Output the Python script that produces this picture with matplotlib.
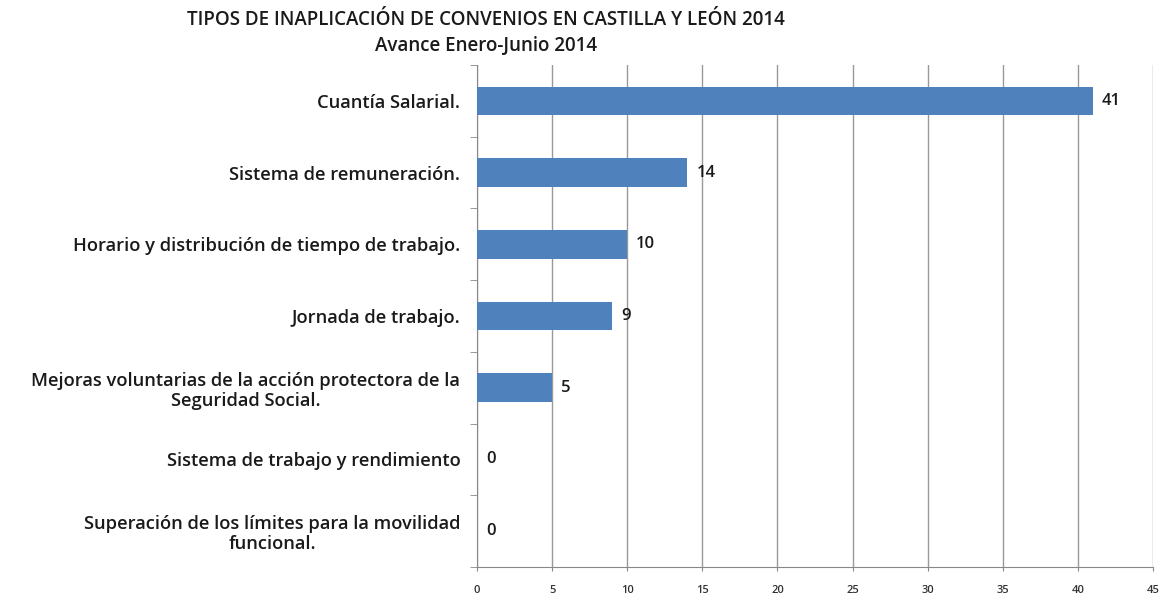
import numpy as np
import matplotlib
matplotlib.use('Agg')
import matplotlib.pyplot as plt
from matplotlib.ticker import FixedLocator

categorias = [
    'Cuantía Salarial.',
    'Sistema de remuneración.',
    'Horario y distribución de tiempo de trabajo.',
    'Jornada de trabajo.',
    'Mejoras voluntarias de la acción protectora de la\nSeguridad Social.',
    'Sistema de trabajo y rendimiento',
    'Superación de los límites para la movilidad\nfuncional.',
]
valores = [41, 14, 10, 9, 5, 0, 0]
xticks = [0, 5, 10, 15, 20, 25, 30, 35, 40, 45]

plt.rcParams['font.family'] = ['Open Sans', 'DejaVu Sans']

fig = plt.figure(figsize=(11.62, 6.10), dpi=100)
ax = fig.add_axes([0.4105, 0.0705, 0.5818, 0.8229])

y = np.arange(len(categorias))
ax.barh(y, valores, height=0.4, color='#4F81BD', zorder=3)
for yi, v in zip(y, valores):
    ax.text(v + 0.6, yi, str(v), va='center', ha='left', fontsize=12,
            fontweight='semibold', color='#1a1a1a', zorder=4)

ax.set_xlim(0, 45)
ax.set_ylim(len(categorias) - 0.5, -0.5)
ax.set_xticks(xticks)
ax.set_xticklabels([str(t) for t in xticks], fontsize=8, fontweight='semibold', color='#333333')
ax.set_yticks(y)
ax.set_yticklabels(categorias, fontsize=13.2, fontweight='semibold', multialignment='center',
                   linespacing=1.15, color='#1a1a1a')
ax.yaxis.set_minor_locator(FixedLocator(np.arange(-0.5, len(categorias), 1)))
ax.tick_params(axis='y', which='major', length=0, pad=12)
ax.tick_params(axis='y', which='minor', length=5, color='#888888', direction='out')
ax.tick_params(axis='x', length=3, color='#888888', pad=10)

ax.grid(axis='x', color='#999999', linewidth=1, zorder=0)
for s in ['top', 'right']:
    ax.spines[s].set_visible(False)
ax.spines['left'].set_color('#888888')
ax.spines['bottom'].set_color('#888888')

fig.text(0.418, 0.967, 'TIPOS DE INAPLICACIÓN DE CONVENIOS EN CASTILLA Y LEÓN 2014',
         ha='center', va='center', fontsize=13.5, fontweight='semibold', color='#1a1a1a')
fig.text(0.418, 0.924, 'Avance Enero-Junio 2014',
         ha='center', va='center', fontsize=13.5, fontweight='semibold', color='#1a1a1a')

fig.savefig('out.png', dpi=100)
